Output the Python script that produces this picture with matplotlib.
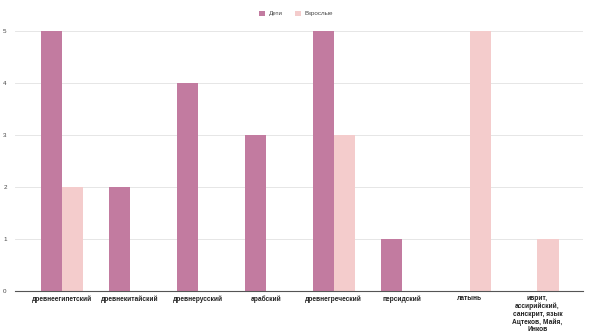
import matplotlib as mpl
mpl.use('Agg')
import matplotlib.pyplot as plt
import numpy as np

plt.rcParams['font.family'] = ['Liberation Sans', 'DejaVu Sans']

categories = ["древнеегипетский", "древнекитайский", "древнерусский", "арабский",
              "древнегреческий", "персидский", "латынь",
              "иврит,\nассирийский,\nсанскрит, язык\nАцтеков, Майя,\nИнков"]
deti = [5, 2, 4, 3, 5, 1, 0, 0]
vzroslye = [2, 0, 0, 0, 3, 0, 5, 1]
series_names = ["Дети", "Взрослые"]

c_deti = "#c27ba0"
c_vzr = "#f4cccc"

fig = plt.figure(figsize=(5.92, 3.35), dpi=100)
ax = fig.add_axes([15 / 592, 1 - 291 / 335, 568 / 592, 260 / 335])

x = np.arange(len(categories))
w = 0.31
ax.bar(x - w / 2, deti, w, color=c_deti, label=series_names[0], zorder=2)
ax.bar(x + w / 2, vzroslye, w, color=c_vzr, label=series_names[1], zorder=2)

ax.set_xlim(-0.69, 7.67)
ax.set_ylim(0, 5)
ax.set_yticks(range(6))
ax.yaxis.grid(True, color="#e6e6e6", linewidth=0.7, zorder=0)
ax.set_axisbelow(True)
for s in ["top", "right", "left"]:
    ax.spines[s].set_visible(False)
ax.spines["bottom"].set_color("#555555")
ax.spines["bottom"].set_linewidth(0.8)
ax.tick_params(axis="y", length=0, labelsize=4.5, labelcolor="#444444", pad=6)
ax.tick_params(axis="x", length=0, pad=3)
ax.set_xticks(x)
ax.set_xticklabels(categories, fontsize=4.8, fontweight="bold", color="#222222",
                   linespacing=1.1, va="top")

fig.legend(loc="upper center", bbox_to_anchor=(0.5, 0.985), ncol=2, frameon=False,
           fontsize=4.5, handlelength=0.9, handleheight=0.9, columnspacing=2.0,
           handletextpad=0.6, labelcolor="#444444")

fig.savefig("out.png", dpi=100)
